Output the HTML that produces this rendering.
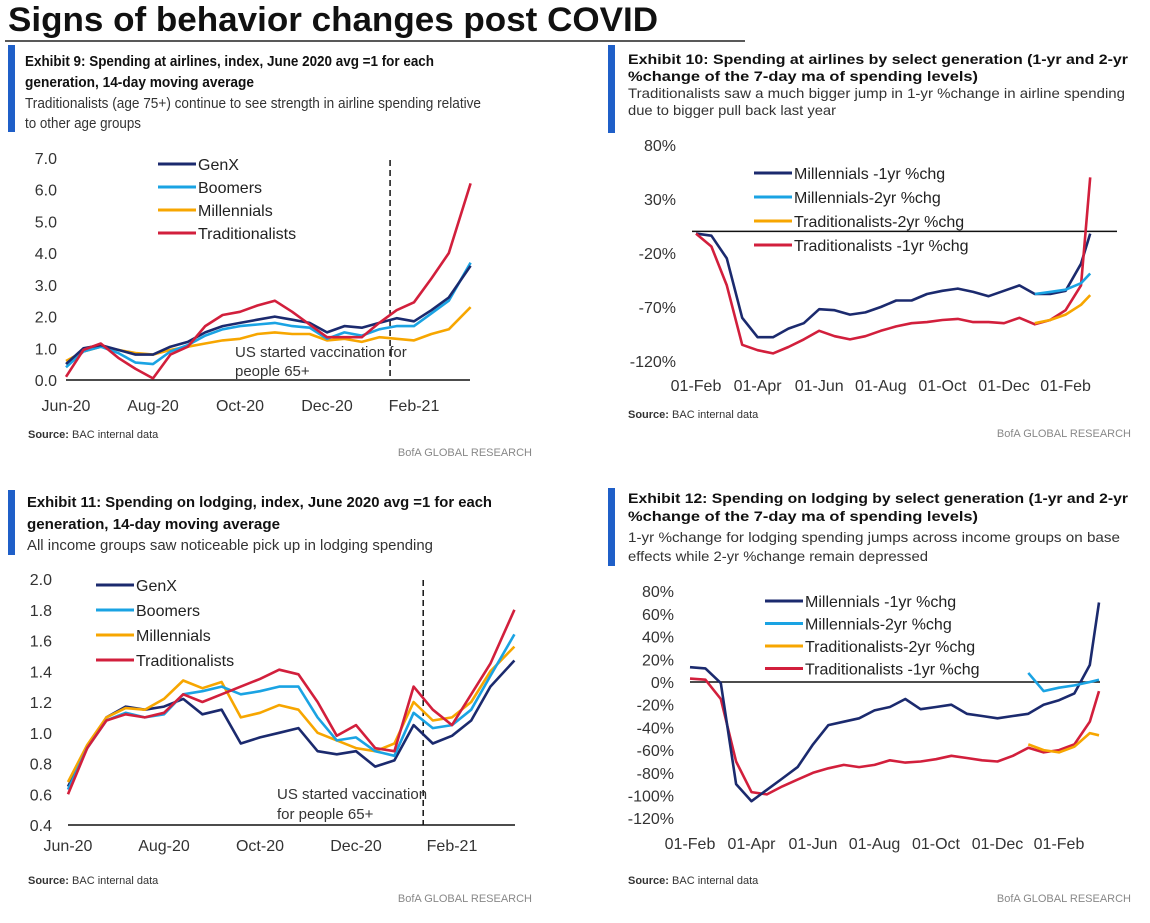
<!DOCTYPE html>
<html><head><meta charset="utf-8"><style>
html,body{margin:0;padding:0;background:#fff;}
svg{display:block;font-family:"Liberation Sans",sans-serif;}
</style></head><body>
<svg id="page" width="1150" height="923" viewBox="0 0 1150 923" xmlns="http://www.w3.org/2000/svg">
<text x="8" y="31" font-size="34" font-weight="bold" fill="#111" textLength="650" lengthAdjust="spacingAndGlyphs">Signs of behavior changes post COVID</text>
<line x1="5" y1="41" x2="745" y2="41" stroke="#222" stroke-width="1.5"/>

<rect x="8" y="45" width="7" height="87" fill="#1f5fc8"/>
<text font-size="15" font-weight="bold" fill="#111"><tspan x="25" y="66" textLength="409" lengthAdjust="spacingAndGlyphs">Exhibit 9: Spending at airlines, index, June 2020 avg =1 for each</tspan><tspan x="25" y="87" textLength="229" lengthAdjust="spacingAndGlyphs">generation, 14-day moving average</tspan></text>
<text font-size="15" fill="#333"><tspan x="25" y="108" textLength="456" lengthAdjust="spacingAndGlyphs">Traditionalists (age 75+) continue to see strength in airline spending relative</tspan><tspan x="25" y="128" textLength="116" lengthAdjust="spacingAndGlyphs">to other age groups</tspan></text>

<rect x="608" y="45" width="7" height="88" fill="#1f5fc8"/>
<text font-size="14" font-weight="bold" fill="#111"><tspan x="628" y="64" textLength="500" lengthAdjust="spacingAndGlyphs">Exhibit 10: Spending at airlines by select generation (1-yr and 2-yr</tspan><tspan x="628" y="81" textLength="350" lengthAdjust="spacingAndGlyphs">%change of the 7-day ma of spending levels)</tspan></text>
<text font-size="14" fill="#333"><tspan x="628" y="98" textLength="497" lengthAdjust="spacingAndGlyphs">Traditionalists saw a much bigger jump in 1-yr %change in airline spending</tspan><tspan x="628" y="115" textLength="208" lengthAdjust="spacingAndGlyphs">due to bigger pull back last year</tspan></text>

<rect x="8" y="490" width="7" height="65" fill="#1f5fc8"/>
<text font-size="15" font-weight="bold" fill="#111"><tspan x="27" y="507" textLength="465" lengthAdjust="spacingAndGlyphs">Exhibit 11: Spending on lodging, index, June 2020 avg =1 for each</tspan><tspan x="27" y="529" textLength="253" lengthAdjust="spacingAndGlyphs">generation, 14-day moving average</tspan></text>
<text x="27" y="550" font-size="15" fill="#333" textLength="406" lengthAdjust="spacingAndGlyphs">All income groups saw noticeable pick up in lodging spending</text>

<rect x="608" y="488" width="7" height="78" fill="#1f5fc8"/>
<text font-size="14" font-weight="bold" fill="#111"><tspan x="628" y="503" textLength="500" lengthAdjust="spacingAndGlyphs">Exhibit 12: Spending on lodging by select generation (1-yr and 2-yr</tspan><tspan x="628" y="521" textLength="350" lengthAdjust="spacingAndGlyphs">%change of the 7-day ma of spending levels)</tspan></text>
<text font-size="14" fill="#333"><tspan x="628" y="542" textLength="492" lengthAdjust="spacingAndGlyphs">1-yr %change for lodging spending jumps across income groups on base</tspan><tspan x="628" y="561" textLength="300" lengthAdjust="spacingAndGlyphs">effects while 2-yr %change remain depressed</tspan></text>

<text x="28" y="438" font-size="11" fill="#333"><tspan font-weight="bold">Source:</tspan> BAC internal data</text>
<text x="628" y="418" font-size="11" fill="#333"><tspan font-weight="bold">Source:</tspan> BAC internal data</text>
<text x="28" y="884" font-size="11" fill="#333"><tspan font-weight="bold">Source:</tspan> BAC internal data</text>
<text x="628" y="884" font-size="11" fill="#333"><tspan font-weight="bold">Source:</tspan> BAC internal data</text>
<text x="532" y="456" font-size="11" fill="#888" text-anchor="end">BofA GLOBAL RESEARCH</text>
<text x="1131" y="437" font-size="11" fill="#888" text-anchor="end">BofA GLOBAL RESEARCH</text>
<text x="532" y="902" font-size="11" fill="#888" text-anchor="end">BofA GLOBAL RESEARCH</text>
<text x="1131" y="902" font-size="11" fill="#888" text-anchor="end">BofA GLOBAL RESEARCH</text>
</svg>
<script>
// ---- Exhibit 9 data (months since Jun-20) ----
const ex9Months = [0,0.4,0.8,1.2,1.6,2.0,2.4,2.8,3.2,3.6,4.0,4.4,4.8,5.2,5.6,6.0,6.4,6.8,7.2,7.6,8.0,8.4,8.8,9.3];
const ex9GenX = [0.5,1.0,1.1,0.95,0.8,0.8,1.05,1.2,1.5,1.7,1.8,1.9,2.0,1.9,1.8,1.5,1.7,1.65,1.8,1.95,1.85,2.2,2.6,3.6];
const ex9Boomers = [0.4,0.9,1.05,0.85,0.55,0.5,0.9,1.1,1.4,1.6,1.7,1.75,1.8,1.7,1.65,1.3,1.5,1.4,1.6,1.7,1.7,2.1,2.5,3.7];
const ex9Millennials = [0.6,0.9,1.05,0.95,0.85,0.8,0.95,1.05,1.15,1.25,1.3,1.45,1.5,1.45,1.45,1.25,1.3,1.2,1.35,1.3,1.25,1.45,1.6,2.3];
const ex9Traditionalists = [0.1,0.95,1.15,0.7,0.35,0.05,0.8,1.05,1.7,2.05,2.15,2.35,2.5,2.15,1.75,1.35,1.35,1.35,1.8,2.2,2.45,3.2,4.0,6.2];
const ex9YTicks = [0,1,2,3,4,5,6,7];
const ex9YTickLabels = ["0.0","1.0","2.0","3.0","4.0","5.0","6.0","7.0"];
const ex9XTicks = [0,2,4,6,8];
const ex9XTickLabels = ["Jun-20","Aug-20","Oct-20","Dec-20","Feb-21"];
const ex9VaccineMonth = 7.45;

// ---- Exhibit 10 data (months since 01-Feb-20) ----
const ex10Months = [0,0.5,1,1.5,2,2.5,3,3.5,4,4.5,5,5.5,6,6.5,7,7.5,8,8.5,9,9.5,10,10.5,11,11.5,12,12.5,12.8];
const ex10Mill1yr = [-2,-4,-25,-80,-98,-98,-90,-85,-72,-73,-77,-75,-70,-64,-64,-58,-55,-53,-56,-60,-55,-50,-58,-58,-55,-30,-2];
const ex10Mill2yr = [null,null,null,null,null,null,null,null,null,null,null,null,null,null,null,null,null,null,null,null,null,null,-58,-56,-54,-48,-39];
const ex10Trad2yr = [null,null,null,null,null,null,null,null,null,null,null,null,null,null,null,null,null,null,null,null,null,null,-85,-82,-77,-68,-59];
const ex10Trad1yr = [-2,-14,-50,-105,-110,-113,-107,-100,-92,-97,-100,-97,-92,-88,-85,-84,-82,-81,-84,-84,-85,-80,-86,-82,-73,-50,50];
const ex10YTicks = [80,30,-20,-70,-120];
const ex10YTickLabels = ["80%","30%","-20%","-70%","-120%"];
const ex10XTicks = [0,2,4,6,8,10,12];
const ex10XTickLabels = ["01-Feb","01-Apr","01-Jun","01-Aug","01-Oct","01-Dec","01-Feb"];

// ---- Exhibit 11 data (months since Jun-20) ----
const ex11Months = [0,0.4,0.8,1.2,1.6,2.0,2.4,2.8,3.2,3.6,4.0,4.4,4.8,5.2,5.6,6.0,6.4,6.8,7.2,7.6,8.0,8.4,8.8,9.3];
const ex11GenX = [0.65,0.9,1.1,1.17,1.15,1.17,1.22,1.12,1.15,0.93,0.97,1.0,1.03,0.88,0.86,0.88,0.78,0.82,1.05,0.93,0.98,1.08,1.3,1.47];
const ex11Boomers = [0.63,0.9,1.08,1.13,1.1,1.12,1.25,1.27,1.3,1.25,1.27,1.3,1.3,1.1,0.95,0.97,0.88,0.85,1.13,1.03,1.05,1.15,1.37,1.64];
const ex11Millennials = [0.68,0.92,1.1,1.16,1.15,1.22,1.34,1.29,1.33,1.1,1.13,1.18,1.15,1.0,0.95,0.9,0.88,0.93,1.2,1.08,1.1,1.2,1.4,1.56];
const ex11Traditionalists = [0.6,0.9,1.08,1.12,1.1,1.13,1.25,1.2,1.25,1.3,1.35,1.41,1.38,1.2,0.98,1.05,0.9,0.88,1.3,1.15,1.05,1.25,1.45,1.8];
const ex11YTicks = [0.4,0.6,0.8,1.0,1.2,1.4,1.6,1.8,2.0];
const ex11YTickLabels = ["0.4","0.6","0.8","1.0","1.2","1.4","1.6","1.8","2.0"];
const ex11XTicks = [0,2,4,6,8];
const ex11XTickLabels = ["Jun-20","Aug-20","Oct-20","Dec-20","Feb-21"];
const ex11VaccineMonth = 7.4;

// ---- Exhibit 12 data (months since 01-Feb-20) ----
const ex12Months = [0,0.5,1,1.5,2,2.5,3,3.5,4,4.5,5,5.5,6,6.5,7,7.5,8,8.5,9,9.5,10,10.5,11,11.5,12,12.5,13,13.3];
const ex12Mill1yr = [13,12,-1,-90,-105,-95,-85,-75,-55,-38,-35,-32,-25,-22,-15,-24,-22,-20,-28,-30,-32,-30,-28,-20,-16,-10,15,70];
const ex12Mill2yr = [null,null,null,null,null,null,null,null,null,null,null,null,null,null,null,null,null,null,null,null,null,null,8,-8,-5,-3,0,2];
const ex12Trad2yr = [null,null,null,null,null,null,null,null,null,null,null,null,null,null,null,null,null,null,null,null,null,null,-55,-60,-62,-57,-45,-47];
const ex12Trad1yr = [3,2,-15,-70,-97,-99,-92,-86,-80,-76,-73,-75,-73,-69,-71,-70,-68,-65,-67,-69,-70,-65,-58,-62,-60,-55,-35,-8];
const ex12YTicks = [80,60,40,20,0,-20,-40,-60,-80,-100,-120];
const ex12YTickLabels = ["80%","60%","40%","20%","0%","-20%","-40%","-60%","-80%","-100%","-120%"];
const ex12XTicks = [0,2,4,6,8,10,12];
const ex12XTickLabels = ["01-Feb","01-Apr","01-Jun","01-Aug","01-Oct","01-Dec","01-Feb"];

const NAVY="#1b2a6e", LBLUE="#1aa3e3", ORANGE="#f7a600", RED="#d21f3c";
const NS="http://www.w3.org/2000/svg";
const svg=document.getElementById('page');
function mk(tag){return document.createElementNS(NS,tag);}

function makeScale(d0,d1,r0,r1){return v=>r0+(v-d0)*(r1-r0)/(d1-d0);}

function drawLine(g,xs,ys,sx,sy,color,name){
  let d="",pen=false;
  for(let i=0;i<xs.length;i++){
    if(ys[i]===null){pen=false;continue;}
    d+=(pen?"L":"M")+sx(xs[i]).toFixed(1)+","+sy(ys[i]).toFixed(1);
    pen=true;
  }
  const p=mk('path');
  
  
  p.setAttribute('d',d);p.setAttribute('fill','none');
  p.setAttribute('stroke',color);p.setAttribute('stroke-width','2.6');
  p.setAttribute('stroke-linejoin','round');
  g.appendChild(p);
}
function addText(g,x,y,str,anchor,size,name,fill){
  const t=mk('text');
  
  
  t.setAttribute('x',x);t.setAttribute('y',y);
  t.setAttribute('text-anchor',anchor);t.setAttribute('font-size',size);
  t.setAttribute('fill',fill||'#333');t.textContent=str;g.appendChild(t);
}
function addLegend(g,x,y0,dy,entries,prefix){
  entries.forEach((e,i)=>{
    const l=mk('line');
    
    
    l.setAttribute('x1',x);l.setAttribute('x2',x+38);
    l.setAttribute('y1',y0+i*dy);l.setAttribute('y2',y0+i*dy);
    l.setAttribute('stroke',e[1]);l.setAttribute('stroke-width','3');g.appendChild(l);
    addText(g,x+40,y0+i*dy+6,e[0],'start',16,prefix+'-legend-entry','#222');
  });
}
function hline(g,x1,x2,y,name){
  const l=mk('line');
  
  
  l.setAttribute('x1',x1);l.setAttribute('x2',x2);l.setAttribute('y1',y);l.setAttribute('y2',y);
  l.setAttribute('stroke','#111');l.setAttribute('stroke-width','1.5');g.appendChild(l);
}
function vdash(g,x,y1,y2,name){
  const l=mk('line');
  
  
  l.setAttribute('x1',x);l.setAttribute('x2',x);l.setAttribute('y1',y1);l.setAttribute('y2',y2);
  l.setAttribute('stroke','#111');l.setAttribute('stroke-width','1.5');l.setAttribute('stroke-dasharray','6,4');g.appendChild(l);
}
function group(name){const g=mk('g');svg.appendChild(g);return g;}

// Exhibit 9
(function(){
  const g=group('ex9-chart');
  const sx=makeScale(0,1,66,109.5), sy=makeScale(0,7,380,158);
  ex9YTicks.forEach((v,i)=>addText(g,57,sy(v)+6,ex9YTickLabels[i],'end',16,'ex9-y-tick'));
  ex9XTicks.forEach((v,i)=>addText(g,sx(v),411,ex9XTickLabels[i],'middle',16,'ex9-x-tick'));
  hline(g,66,470,380,'ex9-x-axis');
  vdash(g,sx(ex9VaccineMonth),160,380,'ex9-vaccination-marker');
  addText(g,235,357,'US started vaccination for','start',15,'ex9-annotation','#333');
  addText(g,235,376,'people 65+','start',15,'ex9-annotation','#333');
  drawLine(g,ex9Months,ex9Millennials,sx,sy,ORANGE,'ex9-millennials-line');
  drawLine(g,ex9Months,ex9Boomers,sx,sy,LBLUE,'ex9-boomers-line');
  drawLine(g,ex9Months,ex9GenX,sx,sy,NAVY,'ex9-genx-line');
  drawLine(g,ex9Months,ex9Traditionalists,sx,sy,RED,'ex9-traditionalists-line');
  addLegend(g,158,164,23,[["GenX",NAVY],["Boomers",LBLUE],["Millennials",ORANGE],["Traditionalists",RED]],'ex9');
})();
// Exhibit 10
(function(){
  const g=group('ex10-chart');
  const sx=makeScale(0,1,696,726.8), sy=makeScale(80,-120,145,361);
  ex10YTicks.forEach((v,i)=>addText(g,676,sy(v)+6,ex10YTickLabels[i],'end',16,'ex10-y-tick'));
  ex10XTicks.forEach((v,i)=>addText(g,sx(v),391,ex10XTickLabels[i],'middle',16,'ex10-x-tick'));
  hline(g,692,1117,sy(0),'ex10-zero-line');
  drawLine(g,ex10Months,ex10Mill1yr,sx,sy,NAVY,'ex10-millennials-1yr-line');
  drawLine(g,ex10Months,ex10Trad1yr,sx,sy,RED,'ex10-traditionalists-1yr-line');
  drawLine(g,ex10Months,ex10Mill2yr,sx,sy,LBLUE,'ex10-millennials-2yr-line');
  drawLine(g,ex10Months,ex10Trad2yr,sx,sy,ORANGE,'ex10-traditionalists-2yr-line');
  addLegend(g,754,173,24,[["Millennials -1yr %chg",NAVY],["Millennials-2yr %chg",LBLUE],["Traditionalists-2yr %chg",ORANGE],["Traditionalists -1yr %chg",RED]],'ex10');
})();
// Exhibit 11
(function(){
  const g=group('ex11-chart');
  const sx=makeScale(0,1,68,116), sy=makeScale(0.4,2.0,825,579);
  ex11YTicks.forEach((v,i)=>addText(g,52,sy(v)+6,ex11YTickLabels[i],'end',16,'ex11-y-tick'));
  ex11XTicks.forEach((v,i)=>addText(g,sx(v),851,ex11XTickLabels[i],'middle',16,'ex11-x-tick'));
  hline(g,68,515,825,'ex11-x-axis');
  vdash(g,sx(ex11VaccineMonth),580,825,'ex11-vaccination-marker');
  addText(g,277,799,'US started vaccination','start',15,'ex11-annotation','#333');
  addText(g,277,819,'for people 65+','start',15,'ex11-annotation','#333');
  drawLine(g,ex11Months,ex11GenX,sx,sy,NAVY,'ex11-genx-line');
  drawLine(g,ex11Months,ex11Millennials,sx,sy,ORANGE,'ex11-millennials-line');
  drawLine(g,ex11Months,ex11Boomers,sx,sy,LBLUE,'ex11-boomers-line');
  drawLine(g,ex11Months,ex11Traditionalists,sx,sy,RED,'ex11-traditionalists-line');
  addLegend(g,96,585,25,[["GenX",NAVY],["Boomers",LBLUE],["Millennials",ORANGE],["Traditionalists",RED]],'ex11');
})();
// Exhibit 12
(function(){
  const g=group('ex12-chart');
  const sx=makeScale(0,1,690,720.75), sy=makeScale(0,-100,682,795.5);
  ex12YTicks.forEach((v,i)=>addText(g,674,sy(v)+6,ex12YTickLabels[i],'end',16,'ex12-y-tick'));
  ex12XTicks.forEach((v,i)=>addText(g,sx(v),849,ex12XTickLabels[i],'middle',16,'ex12-x-tick'));
  hline(g,690,1100,sy(0),'ex12-zero-line');
  drawLine(g,ex12Months,ex12Trad1yr,sx,sy,RED,'ex12-traditionalists-1yr-line');
  drawLine(g,ex12Months,ex12Trad2yr,sx,sy,ORANGE,'ex12-traditionalists-2yr-line');
  drawLine(g,ex12Months,ex12Mill1yr,sx,sy,NAVY,'ex12-millennials-1yr-line');
  drawLine(g,ex12Months,ex12Mill2yr,sx,sy,LBLUE,'ex12-millennials-2yr-line');
  addLegend(g,765,601,22.5,[["Millennials -1yr %chg",NAVY],["Millennials-2yr %chg",LBLUE],["Traditionalists-2yr %chg",ORANGE],["Traditionalists -1yr %chg",RED]],'ex12');
})();
</script>
</body></html>
